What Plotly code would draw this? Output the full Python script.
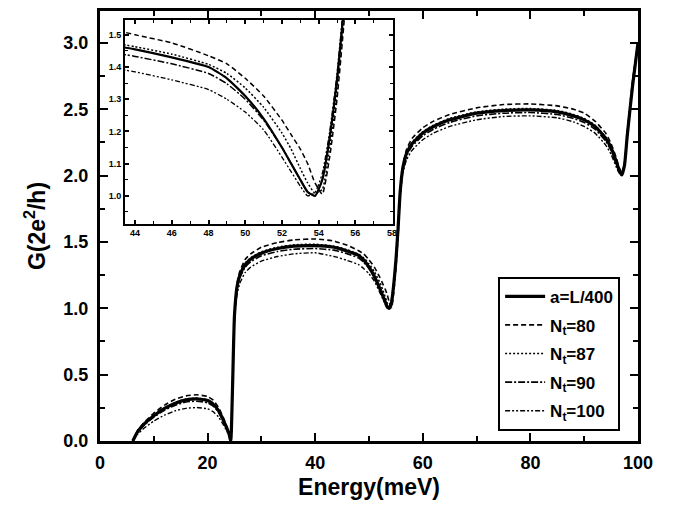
import plotly.graph_objects as go

energy = [6.1, 7, 8, 10, 12, 14, 16, 18, 20, 21, 22, 23, 24, 24.3, 24.6, 25, 25.5, 26, 27, 28,
          30, 33, 36, 40, 43.5, 44, 46, 48, 49, 50, 51, 52, 52.5, 53, 53.4, 53.8, 54.2, 54.6, 55,
          55.4, 55.8, 56.3, 57, 58, 60, 62, 65, 70, 75, 80, 85, 88, 90, 92, 94, 95, 96, 96.5, 97,
          97.5, 98, 99, 100]

g_L400 = [0, 0.07, 0.12, 0.19, 0.245, 0.285, 0.31, 0.318, 0.305, 0.28, 0.23, 0.15, 0.05, 0.0, 0.35,
          0.95, 1.17, 1.25, 1.33, 1.37, 1.415, 1.45, 1.468, 1.472, 1.46, 1.455, 1.43, 1.40, 1.365,
          1.31, 1.24, 1.15, 1.10, 1.05, 1.012, 1.0, 1.05, 1.18, 1.36, 1.6, 1.88, 2.06, 2.17, 2.24,
          2.32, 2.37, 2.42, 2.47, 2.49, 2.495, 2.48, 2.45, 2.42, 2.37, 2.28, 2.21, 2.10, 2.04, 2.005,
          2.08, 2.3, 2.68, 3.0]
g_N80 = [0, 0.08, 0.13, 0.21, 0.27, 0.315, 0.34, 0.348, 0.335, 0.31, 0.255, 0.17, 0.06, 0.0, 0.33,
         0.95, 1.19, 1.28, 1.37, 1.41, 1.46, 1.495, 1.515, 1.522, 1.507, 1.50, 1.475, 1.435, 1.41,
         1.365, 1.31, 1.235, 1.19, 1.145, 1.10, 1.04, 1.005, 1.12, 1.30, 1.55, 1.85, 2.07, 2.2, 2.28,
         2.36, 2.41, 2.46, 2.51, 2.535, 2.54, 2.525, 2.50, 2.47, 2.41, 2.32, 2.24, 2.13, 2.06, 2.02,
         2.09, 2.32, 2.72, 3.0]
g_N87 = [0, 0.072, 0.123, 0.195, 0.25, 0.29, 0.315, 0.323, 0.31, 0.285, 0.235, 0.155, 0.052, 0.0,
         0.32, 0.93, 1.17, 1.26, 1.34, 1.38, 1.425, 1.46, 1.478, 1.482, 1.468, 1.463, 1.44, 1.408,
         1.38, 1.335, 1.275, 1.195, 1.145, 1.085, 1.04, 1.008, 1.02, 1.15, 1.33, 1.57, 1.86, 2.06,
         2.18, 2.25, 2.33, 2.38, 2.43, 2.48, 2.50, 2.505, 2.49, 2.46, 2.43, 2.38, 2.29, 2.22, 2.11,
         2.05, 2.01, 2.08, 2.3, 2.69, 3.0]
g_N90 = [0, 0.065, 0.112, 0.18, 0.232, 0.27, 0.294, 0.30, 0.288, 0.265, 0.218, 0.142, 0.047, 0.0,
         0.34, 0.95, 1.15, 1.23, 1.31, 1.35, 1.395, 1.428, 1.445, 1.45, 1.438, 1.433, 1.41, 1.38,
         1.348, 1.30, 1.235, 1.15, 1.10, 1.05, 1.012, 1.0, 1.05, 1.18, 1.36, 1.6, 1.86, 2.04, 2.15,
         2.22, 2.30, 2.35, 2.40, 2.45, 2.47, 2.475, 2.46, 2.43, 2.40, 2.35, 2.26, 2.19, 2.08, 2.03,
         2.0, 2.08, 2.3, 2.68, 3.0]
g_N100 = [0, 0.05, 0.09, 0.15, 0.195, 0.228, 0.246, 0.252, 0.242, 0.222, 0.182, 0.118, 0.04, 0.0,
          0.36, 0.95, 1.11, 1.19, 1.27, 1.31, 1.355, 1.39, 1.41, 1.418, 1.39, 1.385, 1.36, 1.33,
          1.30, 1.26, 1.205, 1.12, 1.075, 1.03, 1.0, 1.01, 1.07, 1.2, 1.38, 1.62, 1.86, 2.02, 2.12,
          2.19, 2.27, 2.32, 2.37, 2.42, 2.445, 2.45, 2.435, 2.405, 2.37, 2.32, 2.23, 2.16, 2.06,
          2.02, 2.01, 2.1, 2.32, 2.7, 3.0]

series_names = ["a=L/400", "N<sub>t</sub>=80", "N<sub>t</sub>=87", "N<sub>t</sub>=90", "N<sub>t</sub>=100"]
series_values = [g_L400, g_N80, g_N87, g_N90, g_N100]
dashes = ["solid", "5px,3px", "2px,2px", "7px,2px,2px,2px", "5px,2px,2px,2px,2px,2px"]
widths = [3.2, 1.6, 1.6, 1.6, 1.4]
inset_widths = [2.2, 1.5, 1.5, 1.5, 1.3]

FONT = "Liberation Sans, Arial, sans-serif"

fig = go.Figure()
for i, (name, vals, d, w) in enumerate(zip(series_names, series_values, dashes, widths)):
    fig.add_trace(go.Scatter(x=energy, y=vals, mode="lines", name=name, legendgroup=f"g{i}",
                             line=dict(color="black", width=w, dash=d, shape="spline", smoothing=0.5),
                             xaxis="x", yaxis="y"))
for i, (name, vals, d, w) in enumerate(zip(series_names, series_values, dashes, inset_widths)):
    fig.add_trace(go.Scatter(x=energy, y=vals, mode="lines", name=name, showlegend=False,
                             legendgroup=f"g{i}",
                             line=dict(color="black", width=w, dash=d, shape="spline", smoothing=0.5),
                             xaxis="x2", yaxis="y2"))

main_axis = dict(showgrid=False, zeroline=False, showline=True, linecolor="black", linewidth=3,
                 mirror="ticks", ticks="inside", ticklen=8, tickwidth=2, tickcolor="black",
                 tickfont=dict(family=FONT, size=18, color="black", weight="bold"))
inset_axis = dict(showgrid=False, zeroline=False, showline=True, linecolor="black", linewidth=2,
                  mirror="ticks", ticks="inside", ticklen=4, tickwidth=1.5, tickcolor="black",
                  tickfont=dict(family=FONT, size=9, color="black", weight="bold"))

fig.update_layout(
    width=678, height=510,
    margin=dict(l=100, r=40, t=8, b=69),
    paper_bgcolor="white", plot_bgcolor="white",
    showlegend=True,
    xaxis=dict(main_axis, range=[0, 100], dtick=20, tick0=0, domain=[0, 1], ticklabelstandoff=3,
               minor=dict(ticks="inside", ticklen=5, tickwidth=2, dtick=10, tickcolor="black"),
               title=dict(text="Energy(meV)", font=dict(family=FONT, size=23, color="black", weight="bold"),
                          standoff=8)),
    yaxis=dict(main_axis, range=[0, 3.24], dtick=0.5, tick0=0, tickformat=".1f", domain=[0, 1],
               ticklabelstandoff=5,
               minor=dict(ticks="inside", ticklen=5, tickwidth=2, dtick=0.25, tickcolor="black"),
               title=dict(text="G(2e<sup>2</sup>/h)", font=dict(family=FONT, size=23, color="black", weight="bold"),
                          standoff=12)),
    xaxis2=dict(inset_axis, range=[43.45, 58.05], dtick=2, tick0=44, domain=[0.0465, 0.5446],
                anchor="y2", ticklabelstandoff=0,
                minor=dict(ticks="inside", ticklen=2.5, tickwidth=1, dtick=1, tickcolor="black")),
    yaxis2=dict(inset_axis, range=[0.914, 1.546], dtick=0.1, tick0=1.0, tickformat=".1f",
                domain=[0.5058, 0.979], anchor="x2",
                minor=dict(ticks="inside", ticklen=2.5, tickwidth=1, dtick=0.05, tickcolor="black")),
    legend=dict(x=0.74, y=0.382, xanchor="left", yanchor="top", bgcolor="white",
                bordercolor="black", borderwidth=2, tracegroupgap=3.5, itemwidth=40,
                font=dict(family=FONT, size=17, color="black", weight="bold")),
)
fig.add_shape(type="rect", xref="x2 domain", yref="y2 domain", x0=0, x1=1, y0=0, y1=1,
              fillcolor="white", line=dict(width=0), layer="below")

fig.write_html("out.html")
